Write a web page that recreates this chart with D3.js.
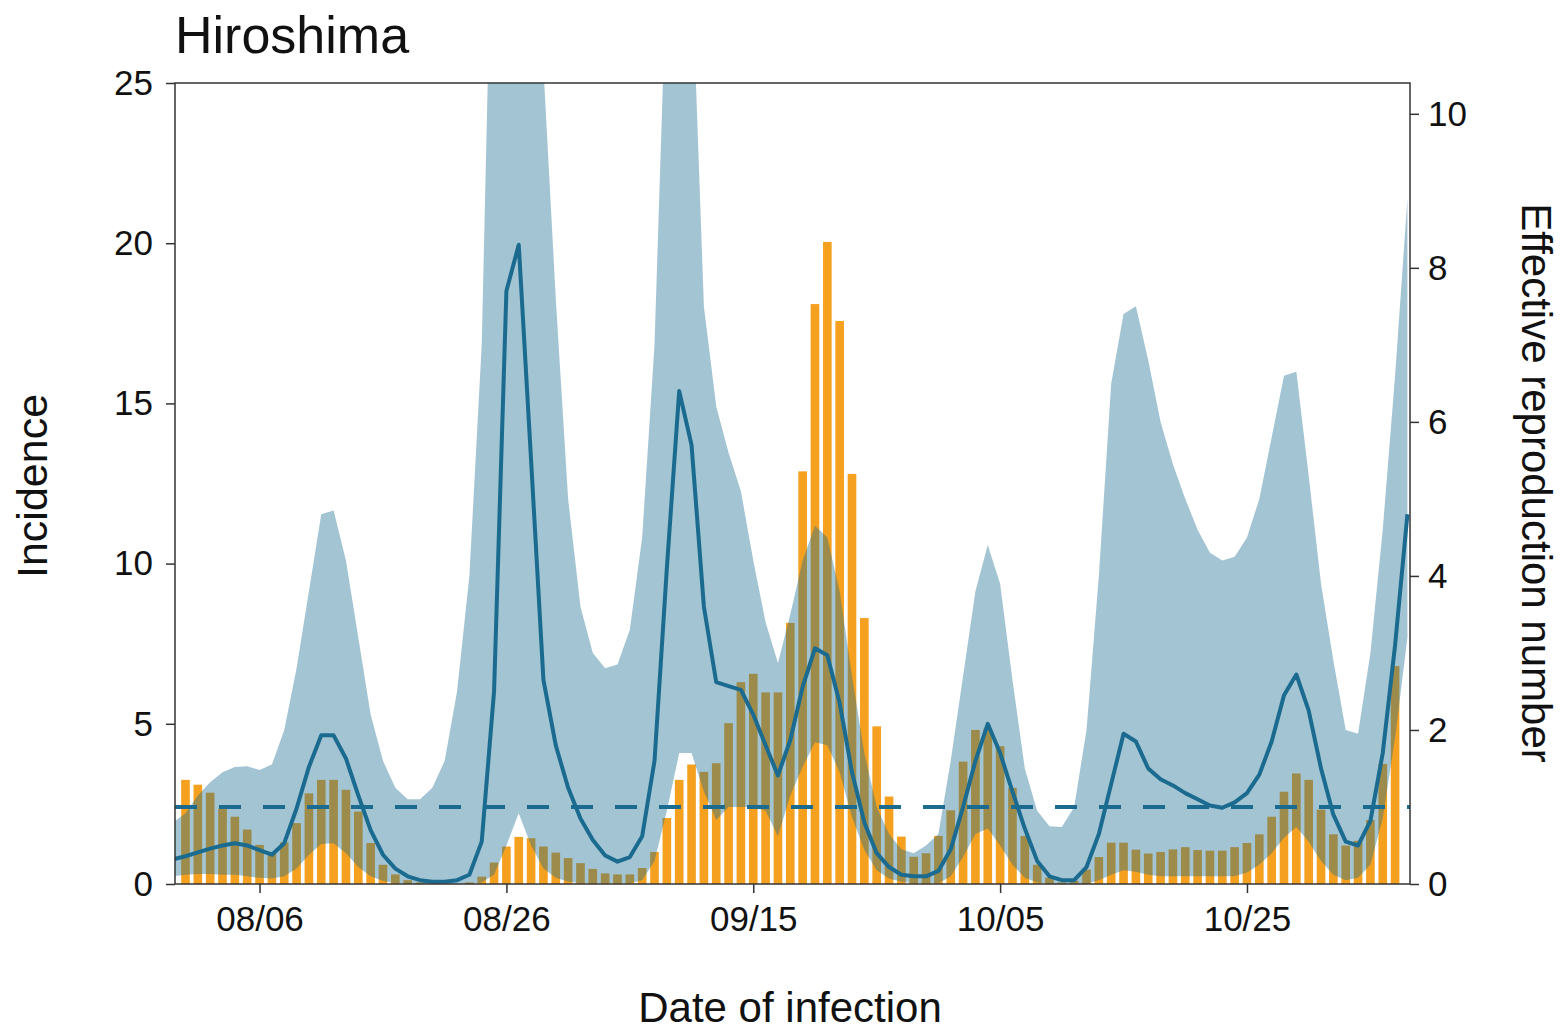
<!DOCTYPE html>
<html><head><meta charset="utf-8">
<script src="https://cdn.jsdelivr.net/npm/d3@7"></script>
<style>
html,body{margin:0;padding:0;background:#fff;}
svg{display:block;}
text{font-family:"Liberation Sans",Arial,Helvetica,sans-serif;fill:#111;}
</style>
</head><body>
<svg id="chart" width="1565" height="1032"></svg>
<script>
// ---------------- DATA ----------------
const chartTitle = "Hiroshima";
const xAxisTitle = "Date of infection";
const yLeftTitle = "Incidence";
const yRightTitle = "Effective reproduction number";

// daily incidence by date of infection, 07/31 .. 11/06
const incidenceStart = "2020-07-31";
const incidence = [
 3.25, 3.1, 2.85, 2.35, 2.1, 1.7, 1.22, 1.0, 1.3, 1.9,
 2.83, 3.25, 3.25, 2.94, 2.26, 1.28, 0.6, 0.3, 0.12, 0.05,
 0, 0, 0, 0.05, 0.23, 0.67, 1.17, 1.47, 1.43, 1.17,
 0.98, 0.81, 0.65, 0.47, 0.33, 0.3, 0.3, 0.5, 1.0, 2.06,
 3.25, 3.73, 3.5, 3.77, 5.02, 6.3, 6.56, 5.98, 5.98, 8.15,
 12.88, 18.1, 20.04, 17.57, 12.8, 8.3, 4.92, 2.73, 1.48, 0.85,
 0.96, 1.5, 2.3, 3.82, 4.81, 4.85, 4.3, 3.0, 1.5, 0.6,
 0.2, 0.05, 0.1, 0.45, 0.84, 1.29, 1.29, 1.07, 0.95, 1.0,
 1.08, 1.15, 1.06, 1.04, 1.04, 1.15, 1.28, 1.55, 2.1, 2.88,
 3.45, 3.25, 2.32, 1.55, 1.2, 1.35, 2.0, 3.75, 6.8
];

// effective reproduction number, 07/30 .. 11/07
const rtStart = "2020-07-30";
const rtMedian = [
 0.32, 0.36, 0.41, 0.46, 0.5, 0.53, 0.5, 0.44, 0.38, 0.53,
 0.98, 1.52, 1.93, 1.93, 1.63, 1.15, 0.7, 0.38, 0.2, 0.1,
 0.05, 0.03, 0.03, 0.05, 0.12, 0.55, 2.5, 7.7, 8.3, 5.5,
 2.65, 1.8, 1.25, 0.85, 0.57, 0.37, 0.29, 0.35, 0.62, 1.6,
 4.1, 6.4, 5.7, 3.6, 2.62, 2.57, 2.52, 2.2, 1.8, 1.41,
 1.87, 2.56, 3.06, 2.97, 2.35, 1.45, 0.8, 0.4, 0.22, 0.12,
 0.1, 0.1, 0.17, 0.45, 1.0, 1.6, 2.08, 1.7, 1.2, 0.72,
 0.3, 0.1, 0.05, 0.05, 0.22, 0.65, 1.3, 1.95, 1.85, 1.5,
 1.36, 1.28, 1.18, 1.1, 1.02, 0.99, 1.06, 1.18, 1.42, 1.85,
 2.45, 2.72, 2.25, 1.5, 0.9, 0.55, 0.5, 0.82, 1.7, 3.1,
 4.8
];
const rtUpper = [
 0.8, 0.92, 1.15, 1.32, 1.45, 1.52, 1.53, 1.48, 1.55, 2.0,
 2.8, 3.8, 4.8, 4.85, 4.2, 3.2, 2.2, 1.6, 1.25, 1.1,
 1.1, 1.25, 1.6, 2.5, 4.0, 7.0, 14, 19, 19, 15,
 10.6, 7.6, 5.0, 3.6, 3.0, 2.8, 2.85, 3.3, 4.5, 7.0,
 12, 16, 12, 7.5, 6.2, 5.6, 5.1, 4.2, 3.4, 2.87,
 3.5, 4.2, 4.65, 4.5, 3.8, 2.7, 1.7, 1.0, 0.65, 0.45,
 0.4, 0.5, 0.65, 1.6, 2.7, 3.8, 4.4, 3.9, 2.65, 1.5,
 0.95, 0.75, 0.74, 1.0, 2.0, 4.0, 6.5, 7.4, 7.5, 6.8,
 6.0, 5.45, 5.0, 4.6, 4.3, 4.2, 4.25, 4.5, 5.0, 5.8,
 6.6, 6.65, 5.3, 3.9, 2.9, 2.0, 1.95, 3.0, 4.6, 6.6,
 8.9
];
const rtLower = [
 0.1, 0.12, 0.13, 0.13, 0.12, 0.12, 0.1, 0.08, 0.07, 0.1,
 0.2, 0.38, 0.52, 0.53, 0.4, 0.22, 0.1, 0.04, 0.01, 0,
 0, 0, 0, 0, 0, 0.02, 0.12, 0.5, 0.92, 0.5,
 0.2, 0.08, 0.03, 0.01, 0.01, 0.01, 0.01, 0.01, 0.05, 0.3,
 0.95, 1.7, 1.7, 1.2, 0.83, 1.0, 1.0, 1.0, 0.95, 0.62,
 1.15, 1.52, 1.84, 1.8, 1.45, 0.87, 0.44, 0.18, 0.07, 0.03,
 0.01, 0.01, 0.01, 0.1, 0.35, 0.65, 0.72, 0.5, 0.25, 0.08,
 0.02, 0, 0, 0, 0, 0.05, 0.12, 0.18, 0.16, 0.12,
 0.1, 0.1, 0.1, 0.1, 0.1, 0.1, 0.1, 0.15, 0.25, 0.4,
 0.6, 0.74, 0.55, 0.3, 0.12, 0.05, 0.08, 0.25, 0.85, 1.9,
 3.2
];

const xTickDates = ["2020-08-06", "2020-08-26", "2020-09-15", "2020-10-05", "2020-10-25"];
const yLeftTicks = [0, 5, 10, 15, 20, 25];
const yRightTicks = [0, 2, 4, 6, 8, 10];
const thresholdR = 1;
const xDomain = ["2020-07-30T03:36", "2020-11-07T05:00"];
const yLeftMax = 25;
const yRightMax = 10.4;

// ---------------- DRAW ----------------
const W = 1565, H = 1032;
const M = {left: 175, right: 155, top: 83, bottom: 148};
const pw = W - M.left - M.right, ph = H - M.top - M.bottom;

const parseD = d3.utcParse("%Y-%m-%d");
const parseT = d3.utcParse("%Y-%m-%dT%H:%M");
const incDates = incidence.map((_, i) => d3.utcDay.offset(parseD(incidenceStart), i));
const rtDates = rtMedian.map((_, i) => d3.utcDay.offset(parseD(rtStart), i));

const x = d3.scaleUtc().domain(xDomain.map(parseT)).range([0, pw]);
const yL = d3.scaleLinear().domain([0, yLeftMax]).range([ph, 0]);
const yR = d3.scaleLinear().domain([0, yRightMax]).range([ph, 0]);
const dayW = x(parseD("2020-08-02")) - x(parseD("2020-08-01"));
const barW = dayW * 0.7;

const svg = d3.select("#chart");
const g = svg.append("g").attr("transform", `translate(${M.left},${M.top})`);

svg.append("defs").append("clipPath").attr("id", "plotclip")
  .append("rect").attr("x", 0).attr("y", 0).attr("width", pw).attr("height", ph);

const plot = g.append("g").attr("clip-path", "url(#plotclip)");

// bars
plot.append("g").selectAll("rect").data(incidence).join("rect")
  .attr("x", (d, i) => x(incDates[i]) - barW / 2)
  .attr("width", barW)
  .attr("y", d => yL(d))
  .attr("height", d => yL(0) - yL(d))
  .attr("fill", "#F5A11F");

const blue = "#1A6B8F";
// credible interval band
const rtRows = rtMedian.map((m, i) => ({date: rtDates[i], m, lo: rtLower[i], hi: rtUpper[i]}));
plot.append("path").datum(rtRows)
  .attr("d", d3.area().x(d => x(d.date)).y0(d => yR(d.lo)).y1(d => yR(d.hi)))
  .attr("fill", blue).attr("fill-opacity", 0.4);

// threshold
plot.append("line")
  .attr("x1", 0).attr("x2", pw)
  .attr("y1", yR(thresholdR)).attr("y2", yR(thresholdR))
  .attr("stroke", blue).attr("stroke-width", 4).attr("stroke-dasharray", "22,22");

// median line
plot.append("path").datum(rtRows)
  .attr("d", d3.line().x(d => x(d.date)).y(d => yR(d.m)))
  .attr("fill", "none").attr("stroke", blue).attr("stroke-width", 4)
  .attr("stroke-linejoin", "round");

// frame
g.append("rect").attr("x", 0).attr("y", 0).attr("width", pw).attr("height", ph)
  .attr("fill", "none").attr("stroke", "#333").attr("stroke-width", 1.5);

const styleAxis = sel => {
  sel.select(".domain").remove();
  sel.selectAll(".tick line").attr("stroke", "#333").attr("stroke-width", 1.5);
  sel.selectAll(".tick text").attr("font-size", 35).attr("fill", "#111")
     .style("font-family", '"Liberation Sans",Arial,Helvetica,sans-serif');
};

g.append("g").attr("transform", `translate(0,${ph})`)
  .call(d3.axisBottom(x).tickValues(xTickDates.map(parseD)).tickFormat(d3.utcFormat("%m/%d"))
        .tickSize(9).tickPadding(13))
  .call(styleAxis);

g.append("g")
  .call(d3.axisLeft(yL).tickValues(yLeftTicks).tickSize(9).tickPadding(13))
  .call(styleAxis);

g.append("g").attr("transform", `translate(${pw},0)`)
  .call(d3.axisRight(yR).tickValues(yRightTicks).tickSize(9).tickPadding(9))
  .call(styleAxis);

// titles
svg.append("text").attr("x", 175).attr("y", 53).attr("font-size", 52).text(chartTitle);
svg.append("text").attr("text-anchor", "middle").attr("font-size", 43)
  .attr("transform", "translate(47,486) rotate(-90)").text(yLeftTitle);
svg.append("text").attr("text-anchor", "middle").attr("font-size", 42)
  .attr("transform", "translate(1522,483) rotate(90)").text(yRightTitle);
svg.append("text").attr("text-anchor", "middle").attr("font-size", 42)
  .attr("x", 790).attr("y", 1022).text(xAxisTitle);
</script>
</body></html>
